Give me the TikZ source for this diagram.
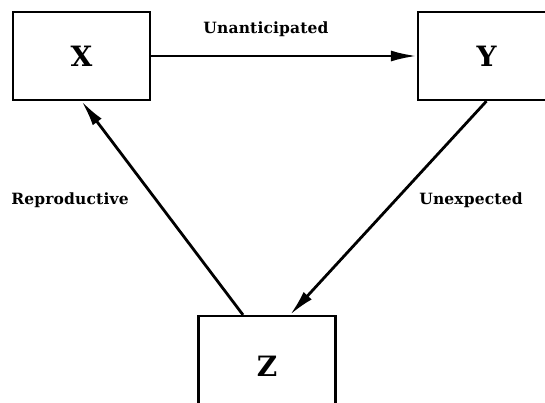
\documentclass[tikz,border=0pt]{standalone}
\usepackage{fontspec}
\setmainfont{DejaVu Serif}
\usetikzlibrary{arrows.meta, positioning}

\begin{document}
\begin{tikzpicture}[x=1pt, y=-1pt,
	box/.style={draw, line width=2.2pt, minimum width=137pt, minimum height=88pt, font=\fontsize{28}{28}\selectfont\bfseries},
	lbl/.style={font=\fontsize{15.5}{16}\selectfont\bfseries\addfontfeature{LetterSpace=1}},
	arr/.style={-{Latex[length=26pt,width=11pt]}, line width=2.8pt}]
	\useasboundingbox (0,0) rectangle (545,402);
	
	\node[box] (x) at (81.5,56) {X};
	
	\node[box] (y) at (486.5,56) {Y};
	
	\node[box, minimum height=100pt] (z) at (267,366) {Z};
	
	\node[lbl] (unant) at (266,29) {Unanticipated};
	
	\node[lbl] (repro) at (70,200) {Reproductive};
	
	\node[lbl] (unexp) at (471,200) {Unexpected};
	
	\draw[arr] (x) -- (y);
	
	\draw[arr] (y.south) -- ([xshift=23pt]z.north);
	
	\draw[arr] ([xshift=-24pt]z.north) -- (x.south);
\end{tikzpicture}
\end{document}
